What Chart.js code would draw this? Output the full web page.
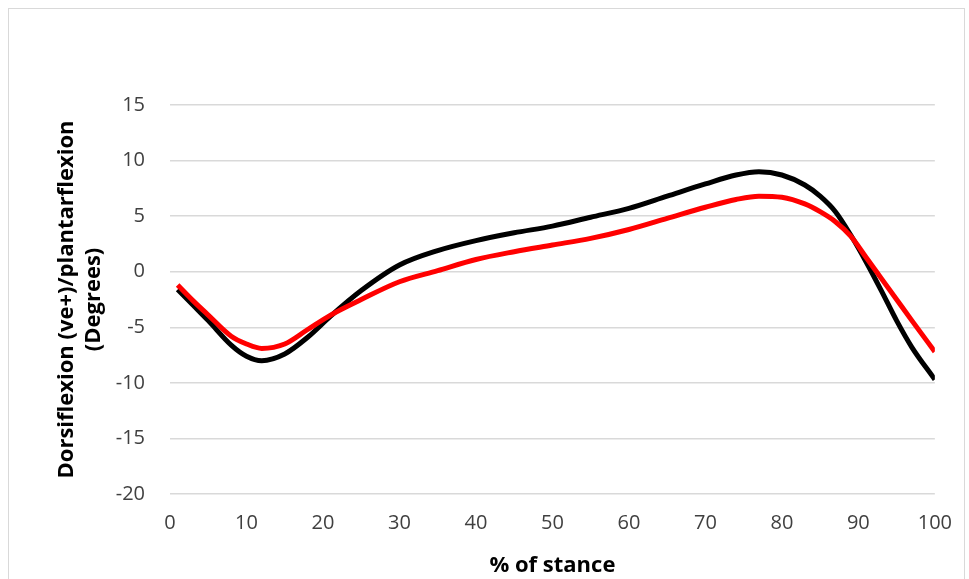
<!DOCTYPE html>
<html>
<head>
<meta charset="utf-8">
<script src="https://cdn.jsdelivr.net/npm/chart.js@4.4.1/dist/chart.umd.min.js"></script>
<style>
  html, body { margin: 0; padding: 0; background: #ffffff; }
  #wrap { position: relative; width: 969px; height: 579px; overflow: hidden; }
  #frame { position: absolute; left: 8px; top: 8px; width: 957px; height: 700px; border: 1px solid #d9d9d9; box-sizing: border-box; }
  #c { position: absolute; left: 0; top: 0; }
</style>
</head>
<body>
<div id="wrap">
  <div id="frame"></div>
  <canvas id="c" width="969" height="579"></canvas>
</div>
<script>
// % of stance sample positions
const stancePct = [1, 3, 5, 8, 10, 12, 15, 18, 21, 25, 30, 35, 40, 45, 50, 55, 60, 65, 70, 74, 77, 80, 83, 85, 87, 89, 91, 93, 95, 97, 100];
// black series (degrees)
const seriesBlack = [-1.6, -3.0, -4.4, -6.6, -7.6, -8.0, -7.4, -5.9, -4.0, -1.7, 0.6, 1.9, 2.8, 3.5, 4.1, 4.9, 5.7, 6.8, 7.9, 8.7, 9.0, 8.7, 7.8, 6.8, 5.4, 3.3, 0.9, -1.7, -4.4, -6.8, -9.7];
// red series (degrees)
const seriesRed = [-1.2, -2.6, -3.9, -5.8, -6.5, -6.9, -6.5, -5.2, -3.9, -2.5, -0.9, 0.1, 1.1, 1.8, 2.4, 3.0, 3.8, 4.8, 5.8, 6.5, 6.8, 6.7, 6.1, 5.4, 4.5, 3.2, 1.3, -0.6, -2.5, -4.4, -7.2];
// axis tick settings
const xTicks = { min: 0, max: 100, step: 10 };
const yTicks = { min: -20, max: 15, step: 5 };
const xTitle = '% of stance';
const yTitle = ['Dorsiflexion (ve+)/plantarflexion', '(Degrees)'];

const toPoints = (xs, ys) => xs.map((x, i) => ({ x: x, y: ys[i] }));

new Chart(document.getElementById('c'), {
  type: 'line',
  data: {
    datasets: [
      {
        label: 'Red',
        data: toPoints(stancePct, seriesRed),
        borderColor: '#ff0000',
        borderWidth: 5,
        pointRadius: 0,
        cubicInterpolationMode: 'monotone',
        fill: false
      },
      {
        label: 'Black',
        data: toPoints(stancePct, seriesBlack),
        borderColor: '#000000',
        borderWidth: 5,
        pointRadius: 0,
        cubicInterpolationMode: 'monotone',
        fill: false
      }
    ]
  },
  options: {
    responsive: false,
    animation: false,
    devicePixelRatio: 1,
    layout: { padding: { left: 0, top: 105, right: 32, bottom: 0 } },
    plugins: { legend: { display: false }, tooltip: { enabled: false } },
    scales: {
      x: {
        type: 'linear',
        min: xTicks.min,
        max: xTicks.max,
        border: { display: false },
        grid: { display: false, drawTicks: false },
        ticks: {
          stepSize: xTicks.step,
          padding: 17,
          color: '#404040',
          font: { family: 'Open Sans', size: 20 },
          maxRotation: 0
        },
        title: {
          display: true,
          text: xTitle,
          color: '#000000',
          font: { family: 'Open Sans', size: 22, weight: 'bold', lineHeight: 1.2 },
          padding: { top: 0, bottom: 0 }
        },
        afterFit: (s) => { s.height = 85; }
      },
      y: {
        min: yTicks.min,
        max: yTicks.max,
        border: { display: false },
        grid: { color: '#d9d9d9', lineWidth: 1.5, drawTicks: false },
        ticks: {
          stepSize: yTicks.step,
          padding: 25,
          color: '#404040',
          font: { family: 'Open Sans', size: 20 }
        },
        title: {
          display: true,
          text: yTitle,
          color: '#000000',
          font: { family: 'Open Sans', size: 22, weight: 'bold', lineHeight: 1.2 },
          padding: { top: 54, bottom: 0 }
        },
        afterFit: (s) => { s.width = 170; }
      }
    }
  }
});
</script>
</body>
</html>
